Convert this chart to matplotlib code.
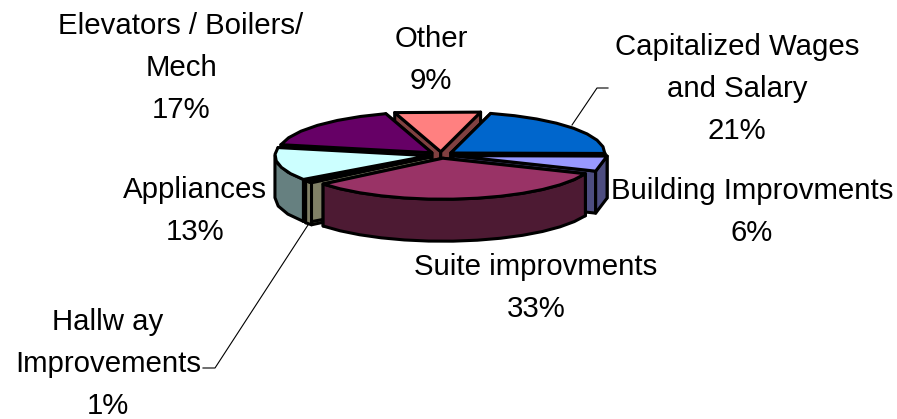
import numpy as np
import matplotlib
matplotlib.use('Agg')
import matplotlib.pyplot as plt
from matplotlib.patches import Polygon

plt.rcParams['font.family'] = ['Liberation Sans', 'DejaVu Sans']

categories = ['Capitalized Wages', 'Building Improvments', 'Suite improvments',
              'Hallway Improvements', 'Appliances', 'Elevators / Boilers/ Mech', 'Other']
values = [21, 6, 33, 1, 13, 17, 9]
top_colors = ['#0066CC', '#9999FF', '#993366', '#FFFFCC', '#CCFFFF', '#660066', '#FF8080']
side_colors = ['#003366', '#4D4D80', '#4D1A33', '#808066', '#668080', '#330033', '#804040']

# pie geometry, in pixels
cx, cy = 441, 155
rx, ry = 154, 41
depth = 42
explode = 0.08
start = 15
step = 9  # coarse rim segments give the lumpy outline


def rim(a1, a2, ox, oy):
    # narrow slices get a straight outer edge
    n = 2 if abs(a2 - a1) < 35 else int(abs(a2 - a1) / step) + 1
    t = np.radians(np.linspace(a1, a2, n))
    return np.column_stack([ox + rx * np.sin(t), oy - ry * np.cos(t)])


fig = plt.figure(figsize=(8.97, 4.19), dpi=100)
ax = fig.add_axes([0, 0, 1, 1])
ax.set_xlim(0, 897)
ax.set_ylim(419, 0)
ax.axis('off')

# clockwise from the start angle
edges = start + np.cumsum([0] + values) * 3.6
slices = []
for i in range(len(values)):
    a1, a2 = edges[i], edges[i + 1]
    mid = np.radians((a1 + a2) / 2)
    slices.append((-np.cos(mid), i, a1, a2, mid))

# paint from the back of the pie to the front
for _, i, a1, a2, mid in sorted(slices):
    ox = cx + explode * rx * np.sin(mid)
    oy = cy - explode * ry * np.cos(mid)
    edge = dict(edgecolor='black', linewidth=2.2, joinstyle='round')
    for a in (a1, a2):
        p = rim(a, a, ox, oy)[0]
        face = [(ox, oy), p, (p[0], p[1] + depth), (ox, oy + depth)]
        ax.add_patch(Polygon(face, facecolor=side_colors[i], **edge))
    lo, hi = max(a1, 90), min(a2, 270)
    if hi > lo:
        arc = rim(lo, hi, ox, oy)
        wall = np.vstack([arc, arc[::-1] + [0, depth]])
        ax.add_patch(Polygon(wall, facecolor=side_colors[i], **edge))
    top = np.vstack([[ox, oy], rim(a1, a2, ox, oy)])
    ax.add_patch(Polygon(top, facecolor=top_colors[i], **edge))

# leader lines
ax.plot([572, 597, 608], [125, 88, 88], color='black', lw=0.8)
ax.plot([308, 215, 203], [225, 368, 368], color='black', lw=0.8)

fs = 21.2
labels = [
    (737, 89, 'Capitalized Wages\nand Salary\n21%'),
    (752, 212, 'Building Improvments\n6%'),
    (536, 288, 'Suite improvments\n33%'),
    (108, 364, 'Hallw ay\nImprovements\n1%'),
    (195, 211, 'Appliances\n13%'),
    (181, 68, 'Elevators / Boilers/\nMech\n17%'),
    (431, 60, 'Other\n9%'),
]
for x, y, s in labels:
    ax.text(x, y, s, fontsize=fs, ha='center', va='center', linespacing=1.62)

fig.savefig('out.png', dpi=100)
